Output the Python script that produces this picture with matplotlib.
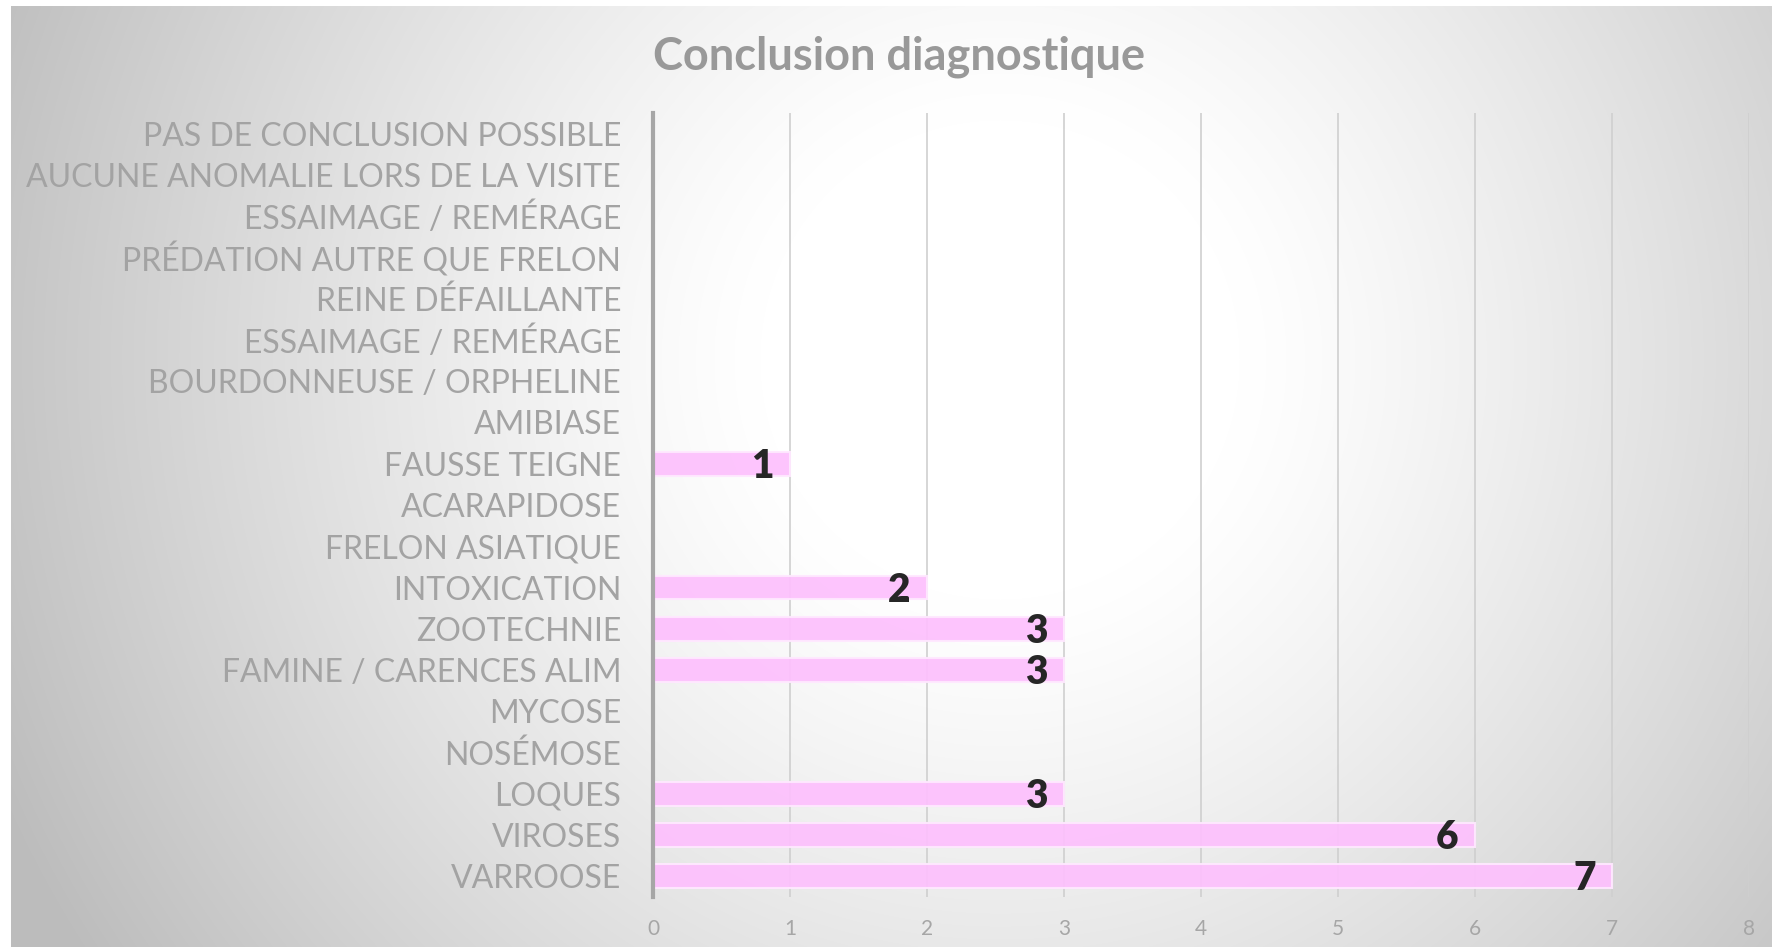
import numpy as np
import matplotlib
matplotlib.use("Agg")
import matplotlib.pyplot as plt

# Données
categories = [
    "VARROOSE", "VIROSES", "LOQUES", "NOSÉMOSE", "MYCOSE",
    "FAMINE / CARENCES ALIM", "ZOOTECHNIE", "INTOXICATION",
    "FRELON ASIATIQUE", "ACARAPIDOSE", "FAUSSE TEIGNE", "AMIBIASE",
    "BOURDONNEUSE / ORPHELINE", "ESSAIMAGE / REMÉRAGE", "REINE DÉFAILLANTE",
    "PRÉDATION AUTRE QUE FRELON", "ESSAIMAGE / REMÉRAGE",
    "AUCUNE ANOMALIE LORS DE LA VISITE", "PAS DE CONCLUSION POSSIBLE",
]
valeurs = [7, 6, 3, 0, 0, 3, 3, 2, 0, 0, 1, 0, 0, 0, 0, 0, 0, 0, 0]
ticks_x = [0, 1, 2, 3, 4, 5, 6, 7, 8]

plt.rcParams['font.family'] = ['Lato', 'DejaVu Sans']

fig = plt.figure(figsize=(17.72, 9.47), dpi=100)

# Fond en dégradé radial
bg = fig.add_axes([0, 0, 1, 1], zorder=-10)
h, w = 947, 1772
yy, xx = np.mgrid[0:h, 0:w]
cx, cy = 1000, 360
r = np.sqrt((xx - cx) ** 2 + (yy - cy) ** 2)
g = 1.0 - 0.26 * np.clip((r - 240) / 850, 0, 1) ** 1.2
img = np.dstack([g, g, g])
img[:7, :, :] = 1.0
img[:, :11, :] = 1.0
bg.imshow(img, aspect='auto', extent=[0, 1, 0, 1], origin='upper')
bg.axis('off')

ax = fig.add_axes([653 / w, 1 - 897 / h, (1749 - 653) / w, (897 - 113) / h])
ax.patch.set_alpha(0)

y = np.arange(len(categories))
ax.barh(y, valeurs, height=0.58, color='#fdc0fd', alpha=0.93,
        edgecolor='#ffe8ff', linewidth=1.5, zorder=3)

# Étiquettes de valeur à l'intérieur des barres
for yi, v in zip(y, valeurs):
    if v > 0:
        ax.text(v - 0.12, yi - 0.06, str(v), ha='right', va='center',
                fontsize=28, fontweight='heavy', color='#262626', zorder=5)

ax.set_xlim(0, 8)
ax.set_ylim(-0.5, len(categories) - 0.5)
ax.set_xticks(ticks_x)
ax.set_yticks(y)
ax.set_yticklabels(categories, fontsize=23, color='#a3a3a3')
ax.tick_params(axis='x', labelsize=15, labelcolor='#a6a6a6', length=0, pad=16)
ax.tick_params(axis='y', length=0, pad=23)
ax.grid(axis='x', color='#cfcfcf', linewidth=1.2, zorder=2)
ax.set_axisbelow(True)
for s in ['top', 'right', 'bottom']:
    ax.spines[s].set_visible(False)
ax.spines['left'].set_color('#a6a6a6')
ax.spines['left'].set_linewidth(3)
ax.spines['left'].set_zorder(6)

fig.text(899 / w, 1 - 57 / h, "Conclusion diagnostique", ha='center', va='center',
         fontsize=32.5, fontweight='bold', color='#999999')

fig.savefig("out.png", dpi=100)
